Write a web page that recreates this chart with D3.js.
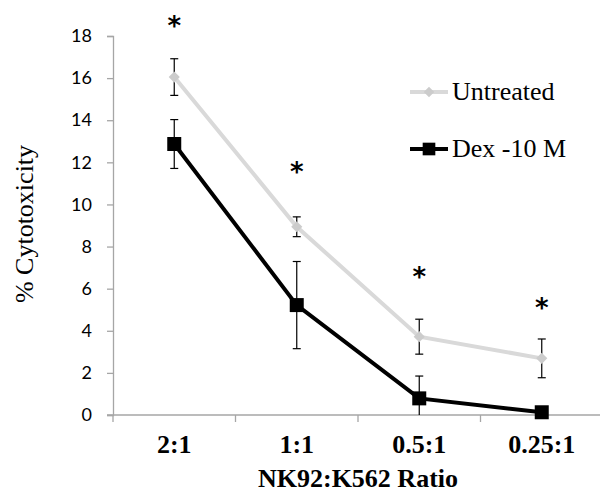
<!DOCTYPE html>
<html><head><meta charset="utf-8">
<script src="https://cdn.jsdelivr.net/npm/d3@7"></script>
<style>body{margin:0;background:#fff}</style>
</head><body>
<svg id="c" width="600" height="493"></svg>
<script>
const categories = ["2:1", "1:1", "0.5:1", "0.25:1"];
const untreated = [16.05, 8.94, 3.72, 2.69];
const untreatedErr = [0.87, 0.47, 0.83, 0.92];
const dex = [12.87, 5.22, 0.79, 0.13];
const dexErr = [1.16, 2.07, 1.06, 0.1];
const yTicks = [0, 2, 4, 6, 8, 10, 12, 14, 16, 18];
const stars = ["*", "*", "*", "*"];
const starValues = [18.7, 11.8, 6.8, 5.3];

const svg = d3.select("#c");
const x = d3.scaleBand().domain(categories).range([113, 603]);
const y = d3.scaleLinear().domain([0, 18]).range([415, 36]);
const cx = d => x(d) + x.bandwidth() / 2;
const axisColor = "#a6a6a6";
const serif = "'Liberation Serif', 'Times New Roman', serif";

// y axis
const ya = svg.append("g").attr("transform", "translate(113,0)")
  .call(d3.axisLeft(y).tickValues(yTicks).tickSize(6).tickPadding(15));
ya.select(".domain").attr("stroke", axisColor).attr("stroke-width", 1.3);
ya.selectAll(".tick line").attr("stroke", axisColor).attr("stroke-width", 1.3);
ya.selectAll(".tick text").attr("font-family", "Lato, 'Open Sans', sans-serif")
  .attr("font-size", 18).attr("fill", "#000");

// x axis
const xa = svg.append("g").attr("transform", "translate(0,415)")
  .call(d3.axisBottom(x).tickSize(0).tickPadding(20));
xa.select(".domain").remove();
xa.selectAll(".tick text").attr("font-family", serif)
  .attr("font-weight", "bold").attr("font-size", 26).attr("fill", "#000");
svg.append("line").attr("x1", 107).attr("x2", 600).attr("y1", 415).attr("y2", 415)
  .attr("stroke", axisColor).attr("stroke-width", 1.3);
categories.forEach(c => {
  const bx = x(c);
  svg.append("line").attr("x1", bx).attr("x2", bx).attr("y1", 415).attr("y2", 422)
    .attr("stroke", axisColor).attr("stroke-width", 1.3);
});

// titles
svg.append("text").attr("x", 358).attr("y", 487).attr("text-anchor", "middle")
  .attr("font-family", serif)
  .attr("font-weight", "bold").attr("font-size", 26).text("NK92:K562 Ratio");
svg.append("text").attr("transform", "translate(33,224) rotate(-90)").attr("text-anchor", "middle")
  .attr("font-family", serif)
  .attr("font-size", 26).text("% Cytotoxicity");

// error bars
function errBars(vals, errs) {
  const g = svg.append("g").attr("stroke", "#000").attr("stroke-width", 1.2);
  vals.forEach((v, i) => {
    const px = cx(categories[i]);
    const top = v + errs[i], bot = Math.max(0, v - errs[i]);
    g.append("line").attr("x1", px).attr("x2", px).attr("y1", y(top)).attr("y2", y(bot));
    g.append("line").attr("x1", px - 4).attr("x2", px + 4).attr("y1", y(top)).attr("y2", y(top));
    if (v - errs[i] > 0)
      g.append("line").attr("x1", px - 4).attr("x2", px + 4).attr("y1", y(bot)).attr("y2", y(bot));
  });
}
errBars(untreated, untreatedErr);
errBars(dex, dexErr);

const line = d3.line().x((d, i) => cx(categories[i])).y(d => y(d));
svg.append("path").datum(untreated).attr("d", line).attr("fill", "none")
  .attr("stroke", "#d9d9d9").attr("stroke-width", 4);
svg.append("path").datum(dex).attr("d", line).attr("fill", "none")
  .attr("stroke", "#000").attr("stroke-width", 4);

svg.selectAll(".um").data(untreated).join("path")
  .attr("d", d3.symbol().type(d3.symbolSquare).size(62)())
  .attr("transform", (d, i) => `translate(${cx(categories[i])},${y(d)}) rotate(45)`)
  .attr("fill", "#cccccc");
svg.selectAll(".dm").data(dex).join("path")
  .attr("transform", (d, i) => `translate(${cx(categories[i])},${y(d)})`)
  .attr("d", d3.symbol().type(d3.symbolSquare).size(196)())
  .attr("fill", "#000");

// asterisks
svg.selectAll(".st").data(starValues).join("text")
  .attr("x", (d, i) => cx(categories[i])).attr("y", d => y(d) + 14)
  .attr("text-anchor", "middle").attr("font-family", "'DejaVu Sans', sans-serif")
  .attr("font-weight", "bold").attr("font-size", 26).text((d, i) => stars[i]);

// legend
const leg = [{name: "Untreated", color: "#d9d9d9", mark: "#cccccc", y: 92, sq: false},
             {name: "Dex -10 M", color: "#000", mark: "#000", y: 149, sq: true}];
leg.forEach(l => {
  svg.append("line").attr("x1", 410).attr("x2", 448).attr("y1", l.y).attr("y2", l.y)
    .attr("stroke", l.color).attr("stroke-width", 4);
  if (l.sq) svg.append("path").attr("d", d3.symbol().type(d3.symbolSquare).size(160)())
    .attr("transform", `translate(429,${l.y})`).attr("fill", l.mark);
  else svg.append("path").attr("d", d3.symbol().type(d3.symbolSquare).size(55)())
    .attr("transform", `translate(429,${l.y}) rotate(45)`).attr("fill", l.mark);
  svg.append("text").attr("x", 452).attr("y", l.y + 8)
    .attr("font-family", serif)
    .attr("font-size", 26).text(l.name);
});
</script>
</body></html>
